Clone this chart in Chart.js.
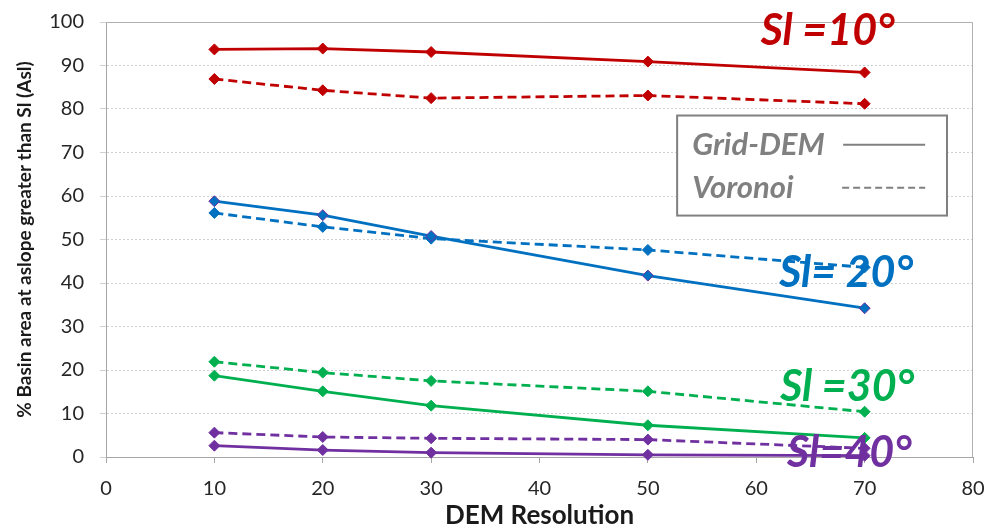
<!DOCTYPE html>
<html>
<head>
<meta charset="utf-8">
<script src="https://cdn.jsdelivr.net/npm/chart.js@4"></script>
<style>
html,body{margin:0;padding:0;background:#fff;}
#wrap{width:988px;height:529px;position:relative;}
</style>
</head>
<body>
<div id="wrap"><canvas id="c" width="988" height="529"></canvas></div>
<script>
const resolutions = [10, 20, 30, 50, 70];
const grid10 = [93.7, 93.9, 93.1, 90.9, 88.4];
const vor10  = [86.9, 84.3, 82.5, 83.1, 81.2];
const grid20 = [58.8, 55.6, 50.8, 41.7, 34.2];
const vor20  = [56.1, 52.9, 50.2, 47.6, 43.6];
const grid30 = [18.7, 15.1, 11.8, 7.3, 4.4];
const vor30  = [21.9, 19.4, 17.5, 15.1, 10.4];
const grid40 = [2.6, 1.6, 1.0, 0.5, 0.3];
const vor40  = [5.6, 4.6, 4.3, 4.0, 2.0];
const xTicks = [0, 10, 20, 30, 40, 50, 60, 70, 80];
const yTicks = [0, 10, 20, 30, 40, 50, 60, 70, 80, 90, 100];
const slopeLabels = ["Sl =10°", "Sl= 20°", "Sl =30°", "Sl=40°"];
const legendLabels = ["Grid-DEM", "Voronoi"];

const RED = '#C00000', BLUE = '#0070C0', GREEN = '#00B050', PURPLE = '#7030A0';
const FONT = 'Lato, "Open Sans", sans-serif';

function pts(arr){ return resolutions.map((x,i)=>({x:x, y:arr[i]})); }
function ds(arr, color, dashed, border){
  return {
    data: pts(arr),
    borderColor: color,
    backgroundColor: color,
    pointBackgroundColor: color,
    pointBorderColor: border || color,
    pointBorderWidth: 1,
    borderWidth: 2.8,
    borderDash: dashed ? [9,5] : [],
    pointStyle: 'rectRot',
    pointRadius: 5.5,
    tension: 0,
    fill: false,
    clip: false
  };
}

const overlay = {
  id: 'overlay',
  afterDraw(chart){
    const ctx = chart.ctx;
    const a = chart.chartArea;
    const xs = chart.scales.x, ys = chart.scales.y;
    ctx.save();
    // plot frame
    ctx.strokeStyle = '#b0b0b0';
    ctx.lineWidth = 1;
    ctx.beginPath();
    ctx.moveTo(a.left, a.top + 0.5);
    ctx.lineTo(a.right - 0.5, a.top + 0.5);
    ctx.lineTo(a.right - 0.5, a.bottom);
    ctx.stroke();

    // slope labels
    ctx.font = 'italic bold 43px ' + FONT;
    ctx.textAlign = 'center';
    ctx.textBaseline = 'alphabetic';
    const lab = [
      [slopeLabels[0], RED, 66.6, 94.7],
      [slopeLabels[1], BLUE, 68.3, 39.1],
      [slopeLabels[2], GREEN, 68.4, 12.9],
      [slopeLabels[3], PURPLE, 68.6, -2.3]
    ];
    lab.forEach(l=>{
      ctx.fillStyle = l[1];
      ctx.fillText(l[0], xs.getPixelForValue(l[2]), ys.getPixelForValue(l[3]));
    });

    // legend box
    const bx = xs.getPixelForValue(52.7), by = ys.getPixelForValue(78.5);
    const bw = xs.getPixelForValue(77.6) - bx, bh = ys.getPixelForValue(55.5) - by;
    ctx.fillStyle = '#ffffff';
    ctx.fillRect(bx, by, bw, bh);
    ctx.strokeStyle = '#808080';
    ctx.lineWidth = 2;
    ctx.strokeRect(bx, by, bw, bh);
    ctx.fillStyle = '#808080';
    ctx.font = 'italic bold 31px ' + FONT;
    ctx.textAlign = 'left';
    ctx.textBaseline = 'middle';
    const r1 = ys.getPixelForValue(71.8), r2 = ys.getPixelForValue(61.9);
    ctx.fillText(legendLabels[0], bx + 15, r1);
    ctx.fillText(legendLabels[1], bx + 15, r2);
    ctx.lineWidth = 2;
    ctx.beginPath();
    ctx.moveTo(bx + 166, r1); ctx.lineTo(bx + 248, r1);
    ctx.stroke();
    ctx.setLineDash([7,4]);
    ctx.beginPath();
    ctx.moveTo(bx + 165, r2); ctx.lineTo(bx + 248, r2);
    ctx.stroke();
    ctx.restore();
  }
};

new Chart(document.getElementById('c'), {
  type: 'line',
  data: {
    datasets: [
      ds(grid10, RED, false),
      ds(vor10, RED, true),
      ds(grid20, BLUE, false, PURPLE),
      ds(vor20, BLUE, true),
      ds(grid30, GREEN, false),
      ds(vor30, GREEN, true),
      ds(grid40, PURPLE, false),
      ds(vor40, PURPLE, true)
    ]
  },
  options: {
    responsive: false,
    animation: false,
    layout: { padding: { top: 22, right: 15, left: 13, bottom: 0 } },
    plugins: { legend: { display: false }, tooltip: { enabled: false } },
    scales: {
      x: {
        type: 'linear',
        min: 0, max: 80,
        afterBuildTicks(s){ s.ticks = xTicks.map(v=>({value:v})); },
        afterFit(s){ s.height = 72; s.paddingLeft = 0; s.paddingRight = 0; },
        grid: { drawOnChartArea: false, drawTicks: true, tickLength: 6, color: '#a6a6a6' },
        border: { color: '#a6a6a6', width: 1 },
        ticks: { color: '#262626', font: { family: FONT, size: 20 }, padding: 14 },
        title: { display: true, text: 'DEM Resolution', color: '#1a1a1a', font: { family: FONT, size: 26, weight: 'bold', lineHeight: 1 }, padding: { top: 0, bottom: 0 } }
      },
      y: {
        min: 0, max: 100,
        afterBuildTicks(s){ s.ticks = yTicks.map(v=>({value:v})); },
        afterFit(s){ s.width = 93; s.paddingTop = 0; s.paddingBottom = 0; },
        grid: { color: '#d0d0d0', drawTicks: true, tickLength: 6, lineWidth: 1 },
        border: { color: '#a6a6a6', width: 1, dash: [2,2] },
        ticks: { color: '#262626', font: { family: FONT, size: 20 }, padding: 16 },
        title: { display: true, text: '% Basin area at aslope greater than Sl (Asl)', color: '#1a1a1a', font: { family: FONT, size: 19, weight: 'bold' }, padding: { top: 0, bottom: 0 } }
      }
    }
  },
  plugins: [overlay]
});
</script>
</body>
</html>
